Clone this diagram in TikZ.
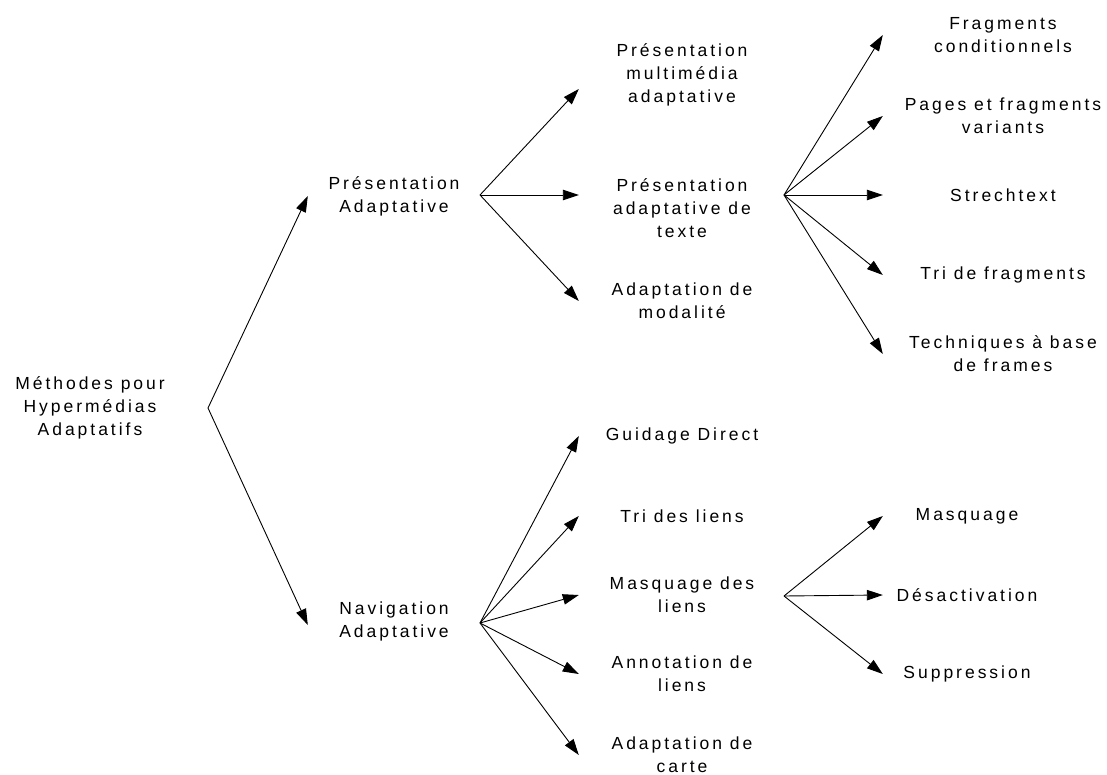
\documentclass[tikz,border=0pt]{standalone}
\usepackage{fontspec}
\setmainfont{Liberation Sans}[LetterSpace=17]
\usetikzlibrary{arrows.meta}
\begin{document}
\begin{tikzpicture}[x=1pt,y=-1pt,
  lbl/.style={align=center, inner sep=0pt, font=\fontsize{17.5}{23}\selectfont},
  midcol/.style={lbl, minimum width=206pt},
  rightcol/.style={lbl, minimum width=240pt},
  masqcol/.style={lbl, minimum width=168pt},
  seccol/.style={lbl, minimum width=172pt},
  arr/.style={-{Triangle[length=16pt,width=10.5pt]}, line width=0.9pt}]
\useasboundingbox (0,0) rectangle (1107,775);
% root
\node[lbl] (root) at (90,408) {Méthodes pour\\Hypermédias\\Adaptatifs};
\coordinate (b0) at (208,408);
% second level
\node[seccol] (pa) at (394,196) {Présentation\\Adaptative};
\node[seccol] (na) at (394,621) {Navigation\\Adaptative};
\coordinate (b1) at (480,195);
\coordinate (b2) at (480,623);
% middle column
\node[midcol] (pma) at (682,75) {Présentation\\multimédia\\adaptative};
\node[midcol] (pat) at (682,208) {Présentation\\adaptative de\\texte};
\node[midcol] (am) at (682,301) {Adaptation de\\modalité};
\node[midcol] (gd) at (682,436) {Guidage Direct};
\node[midcol] (tl) at (682,516) {Tri des liens};
\node[midcol] (ml) at (682,595) {Masquage des\\liens};
\node[midcol] (al) at (682,674) {Annotation de\\liens};
\node[midcol] (ac) at (682,755) {Adaptation de\\carte};
\coordinate (b3) at (784,195);
\coordinate (b4) at (784,596);
% right column (top)
\node[rightcol] (fc) at (1003,35) {Fragments\\conditionnels};
\node[rightcol] (pf) at (1003,116) {Pages et fragments\\variants};
\node[rightcol] (st) at (1003,195) {Strechtext};
\node[rightcol] (tf) at (1003,275) {Tri de fragments};
\node[rightcol] (tb) at (1003,354) {Techniques à base\\de frames};
% right column (bottom)
\node[masqcol] (ma) at (967,516) {Masquage};
\node[masqcol] (de) at (967,595) {Désactivation};
\node[masqcol] (su) at (967,674) {Suppression};
% connectors
\draw[arr] (b0) -- (pa.west);
\draw[arr] (b0) -- ([yshift=-4pt]na.west);
\draw[arr] (b1) -- ([yshift=-14pt]pma.west);
\draw[arr] (b1) -- ([yshift=13pt]pat.west);
\draw[arr] (b1) -- (am.west);
\draw[arr] (b3) -- (fc.west);
\draw[arr] (b3) -- (pf.west);
\draw[arr] (b3) -- (st.west);
\draw[arr] (b3) -- (tf.west);
\draw[arr] (b3) -- (tb.west);
\draw[arr] (b2) -- (gd.west);
\draw[arr] (b2) -- (tl.west);
\draw[arr] (b2) -- (ml.west);
\draw[arr] (b2) -- (al.west);
\draw[arr] (b2) -- (ac.west);
\draw[arr] (b4) -- (ma.west);
\draw[arr] (b4) -- (de.west);
\draw[arr] (b4) -- (su.west);
\end{tikzpicture}
\end{document}
